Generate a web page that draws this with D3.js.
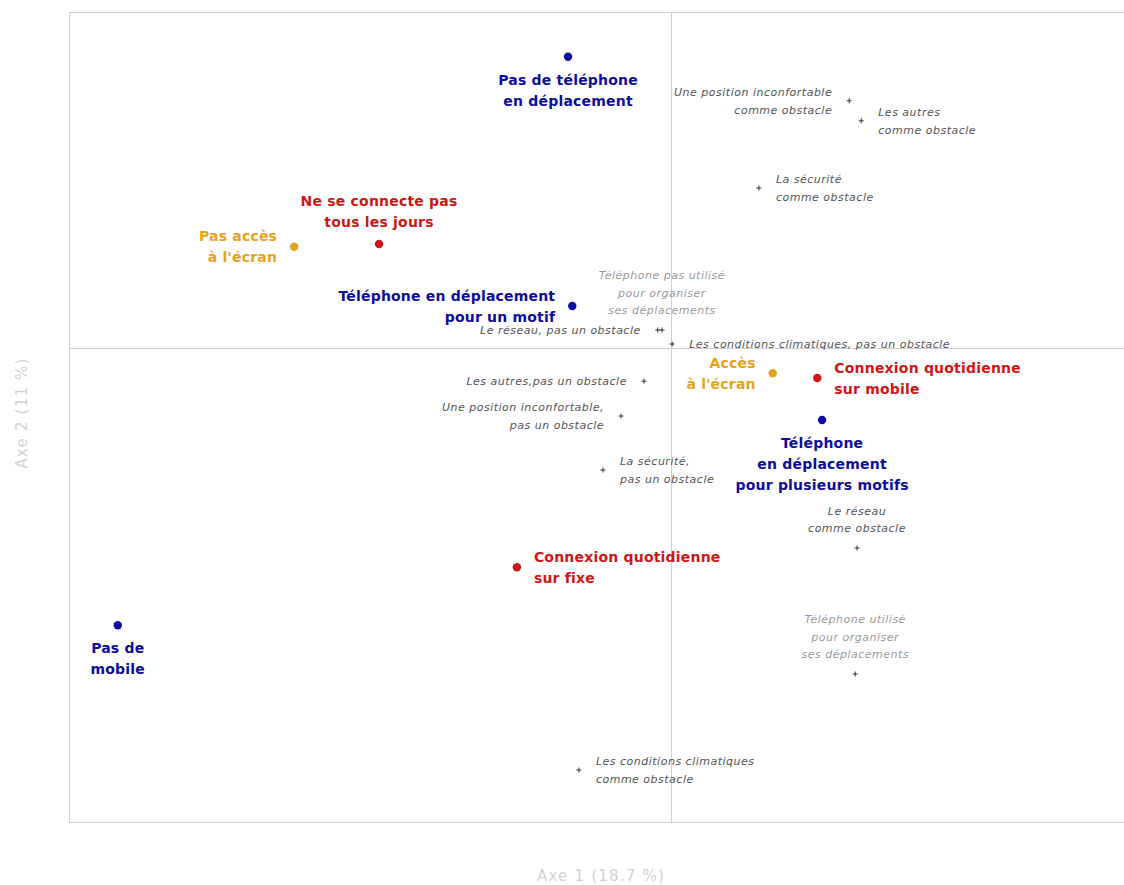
<!DOCTYPE html>
<html>
<head>
<meta charset="utf-8">
<style>
  body { margin: 0; background: #fff; }
  #chart .frame, #chart .zero { fill: none; stroke: #d0d0d0; stroke-width: 1; }
  #chart .act { font: bold 14px "DejaVu Sans", sans-serif; letter-spacing: 0.2px; }
  #chart .sup { font: italic 11px "DejaVu Sans", sans-serif; letter-spacing: 0.5px; }
  #chart .axis-title { font: 15px "DejaVu Sans", sans-serif; fill: #d2d2d2; letter-spacing: 1.2px; }
</style>
<script src="https://d3js.org/d3.v7.min.js"></script>
</head>
<body>
<svg id="chart"></svg>
<script>

// active categories (coordinates on axis 1 / axis 2)
var actLabels = [
  "Pas de téléphone\nen déplacement",
  "Téléphone en déplacement\npour un motif",
  "Téléphone\nen déplacement\npour plusieurs motifs",
  "Pas de\nmobile",
  "Ne se connecte pas\ntous les jours",
  "Connexion quotidienne\nsur mobile",
  "Connexion quotidienne\nsur fixe",
  "Pas accès\nà l'écran",
  "Accès\nà l'écran"
];
var actGroup = ["tel", "tel", "tel", "tel", "cnx", "cnx", "cnx", "ecr", "ecr"];
var actX = [-0.171, -0.164, 0.251, -0.919, -0.485, 0.243, -0.256, -0.626, 0.169];
var actY = [0.728, 0.105, -0.180, -0.693, 0.260, -0.075, -0.548, 0.253, -0.063];

// supplementary categories
var supLabels = [
  "Une position inconfortable\ncomme obstacle",
  "Les autres\ncomme obstacle",
  "La sécurité\ncomme obstacle",
  "Téléphone pas utilisé\npour organiser\nses déplacements",
  "Le réseau, pas un obstacle",
  "Les conditions climatiques, pas un obstacle",
  "Les autres,pas un obstacle",
  "Une position inconfortable,\npas un obstacle",
  "La sécurité,\npas un obstacle",
  "Le réseau\ncomme obstacle",
  "Téléphone utilisé\npour organiser\nses déplacements",
  "Les conditions climatiques\ncomme obstacle"
];
var supGroup = ["obs", "obs", "obs", "org", "obs", "obs", "obs", "obs", "obs", "obs", "org", "obs"];
var supX = [0.296, 0.316, 0.146, -0.015, -0.022, 0.002, -0.045, -0.083, -0.113, 0.309, 0.306, -0.153];
var supY = [0.618, 0.568, 0.400, 0.045, 0.045, 0.010, -0.083, -0.170, -0.305, -0.500, -0.815, -1.055];

var axisTitles = ["Axe 1 (18.7 %)", "Axe 2 (11 %)"];

// where each label sits relative to its point
var actPlace = ["below", "left", "below", "below", "above", "right", "right", "left", "left"];
var supPlace = ["left", "right", "right", "above", "left", "right", "left", "left", "right", "above", "above", "right"];

var colors = { tel: "#0c0ca0", cnx: "#d01515", ecr: "#e8a21e", obs: "#555", org: "#9a9a9a" };

var width = 1124, height = 885;
var pL = 69, pT = 12, pR = 1134, pB = 822;

var x = d3.scaleLinear().domain([-1, 0.77]).range([pL, pL + 1.77 * 602]);
var y = d3.scaleLinear().domain([-1.185, 0.84]).range([pB, pT]);

var svg = d3.select("#chart").attr("width", width).attr("height", height);

svg.append("rect").attr("class", "frame")
    .attr("x", pL + 0.5).attr("y", pT + 0.5)
    .attr("width", pR - pL).attr("height", pB - pT);

svg.append("line").attr("class", "zero")
    .attr("x1", Math.round(x(0)) + 0.5).attr("x2", Math.round(x(0)) + 0.5)
    .attr("y1", pT).attr("y2", pB);
svg.append("line").attr("class", "zero")
    .attr("x1", pL).attr("x2", pR)
    .attr("y1", Math.round(y(0)) + 0.5).attr("y2", Math.round(y(0)) + 0.5);

svg.append("text").attr("class", "axis-title")
    .attr("x", 601).attr("y", 876).attr("text-anchor", "middle")
    .attr("dominant-baseline", "central")
    .text(axisTitles[0]);
svg.append("text").attr("class", "axis-title")
    .attr("transform", "translate(22,413) rotate(-90)").attr("text-anchor", "middle")
    .attr("dominant-baseline", "central")
    .text(axisTitles[1]);

function label(g, txt, place, lh, dx, dyBelow, dyAbove) {
  var lines = txt.split("\n"), n = lines.length, anchor = "middle", tx = 0, y0;
  if (place == "left") { anchor = "end"; tx = -dx; y0 = -(n - 1) * lh / 2; }
  else if (place == "right") { anchor = "start"; tx = dx; y0 = -(n - 1) * lh / 2; }
  else if (place == "below") { y0 = dyBelow; }
  else { y0 = -dyAbove - (n - 1) * lh; }
  var t = g.append("text").attr("text-anchor", anchor).attr("dominant-baseline", "central");
  lines.forEach(function(l, i) {
    t.append("tspan").attr("x", tx).attr("y", y0 + i * lh).text(l);
  });
}

// supplementary points: small crosses
var sup = svg.selectAll("g.sup")
    .data(supLabels)
  .enter().append("g")
    .attr("class", "sup")
    .attr("transform", function(d, i) { return "translate(" + x(supX[i]) + "," + y(supY[i]) + ")"; });

sup.append("path")
    .attr("d", "M-2.5,0H2.5M0,-2.5V2.5")
    .attr("stroke", "#333").attr("stroke-width", 1);

sup.each(function(d, i) {
  var g = d3.select(this).append("g").attr("fill", colors[supGroup[i]]);
  label(g, d, supPlace[i], 17.5, 17, 20, 20);
});

// active points: filled dots
var act = svg.selectAll("g.act")
    .data(actLabels)
  .enter().append("g")
    .attr("class", "act")
    .attr("transform", function(d, i) { return "translate(" + x(actX[i]) + "," + y(actY[i]) + ")"; });

act.append("circle").attr("r", 4.2)
    .attr("fill", function(d, i) { return colors[actGroup[i]]; });

act.each(function(d, i) {
  var g = d3.select(this).append("g").attr("fill", colors[actGroup[i]]);
  label(g, d, actPlace[i], 21, 17, 23, 22);
});

</script>
</body>
</html>
